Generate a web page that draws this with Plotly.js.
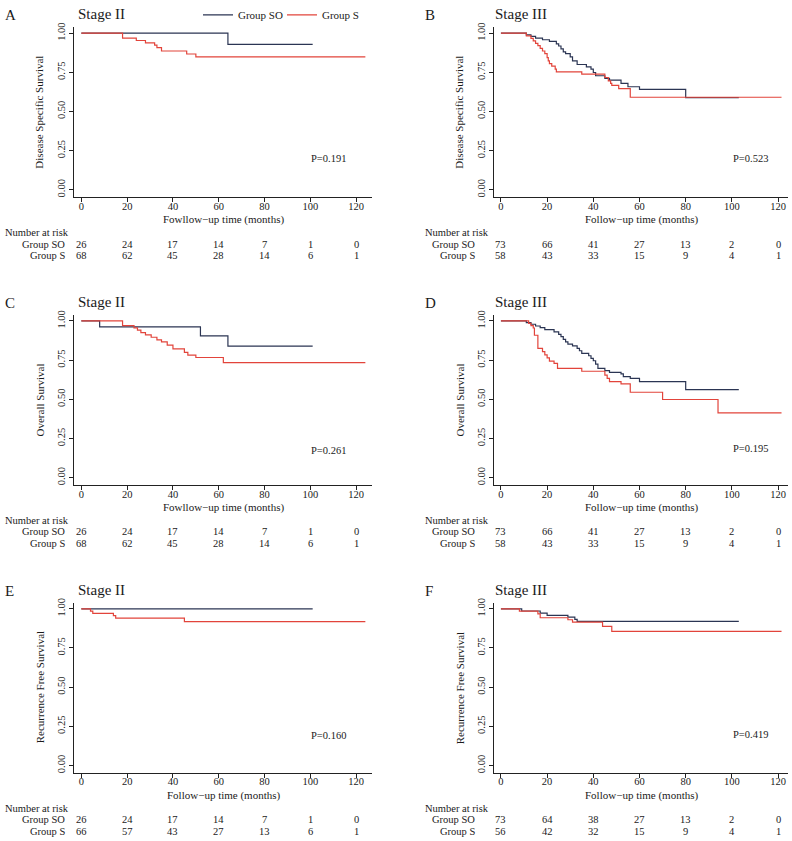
<!DOCTYPE html>
<html><head><meta charset="utf-8">
<script src="https://cdn.plot.ly/plotly-3.0.1.min.js"></script>
<style>html,body{margin:0;padding:0;background:#fff}</style>
</head><body><div id="chart" style="width:792px;height:841px"></div>
<script>
// ---------------- data ----------------
const xTickVals = [0, 20, 40, 60, 80, 100, 120];
const riskTimes = [0, 20, 40, 60, 80, 100, 120];
const yTickVals = [0, 0.25, 0.5, 0.75, 1];
const yTickText = ['0.00', '0.25', '0.50', '0.75', '1.00'];
const groupNames = ['Group SO', 'Group S'];

const panelLetters = ['A', 'B', 'C', 'D', 'E', 'F'];
const stageTitles = ['Stage II', 'Stage III', 'Stage II', 'Stage III', 'Stage II', 'Stage III'];
const yTitles = ['Disease Specific Survival', 'Disease Specific Survival', 'Overall Survival', 'Overall Survival', 'Recurrence Free Survival', 'Recurrence Free Survival'];
const xTitles = ['Fowllow\u2212up time (months)', 'Follow\u2212up time (months)', 'Fowllow\u2212up time (months)', 'Follow\u2212up time (months)', 'Follow\u2212up time (months)', 'Follow\u2212up time (months)'];
const pValues = ['P=0.191', 'P=0.523', 'P=0.261', 'P=0.195', 'P=0.160', 'P=0.419'];
const pValueY = [0.197, 0.2, 0.176, 0.186, 0.19, 0.197];

// A: DSS stage II
const A_SO_t = [0, 64, 101];
const A_SO_s = [1, 0.928, 0.928];
const A_S_t = [0, 18, 24, 28, 32, 33, 35, 46, 50, 124];
const A_S_s = [1, 0.968, 0.953, 0.938, 0.924, 0.908, 0.886, 0.867, 0.848, 0.848];
// B: DSS stage III
const B_SO_t = [0, 11, 13, 15, 18, 21, 24, 25, 26, 27, 28, 30, 31, 33, 37, 39, 40, 41, 45, 47, 52, 55, 60, 80, 103];
const B_SO_s = [1, 0.989, 0.979, 0.968, 0.958, 0.947, 0.932, 0.918, 0.900, 0.880, 0.869, 0.848, 0.823, 0.800, 0.785, 0.770, 0.749, 0.728, 0.711, 0.700, 0.679, 0.658, 0.641, 0.589, 0.589];
const B_S_t = [0, 11, 13, 14, 15, 16, 17, 18, 19, 20, 20.5, 21, 22, 23.5, 24, 35, 45, 46.5, 47.5, 48, 51, 56, 121.5];
const B_S_s = [1, 0.983, 0.966, 0.951, 0.935, 0.920, 0.903, 0.886, 0.869, 0.844, 0.823, 0.806, 0.789, 0.770, 0.753, 0.738, 0.717, 0.696, 0.679, 0.667, 0.646, 0.591, 0.591];
// C: OS stage II
const C_SO_t = [0, 8, 52, 64, 101];
const C_SO_s = [1, 0.962, 0.905, 0.839, 0.839];
const C_S_t = [0, 18, 23, 24.5, 26, 28, 30.5, 33, 35, 37.5, 40, 45, 46.5, 50, 62, 124];
const C_S_s = [1, 0.970, 0.956, 0.941, 0.926, 0.911, 0.896, 0.879, 0.867, 0.846, 0.822, 0.799, 0.782, 0.767, 0.734, 0.734];
// D: OS stage III
const D_SO_t = [0, 11, 13, 15, 17, 19, 23, 25, 26, 27, 28, 29, 31, 33, 34, 35, 38, 39, 40, 41, 42, 45, 47, 52, 53, 56, 60, 80, 103];
const D_SO_s = [1, 0.990, 0.979, 0.968, 0.958, 0.945, 0.930, 0.915, 0.900, 0.882, 0.867, 0.852, 0.841, 0.825, 0.810, 0.793, 0.778, 0.761, 0.746, 0.725, 0.698, 0.683, 0.672, 0.662, 0.645, 0.634, 0.613, 0.562, 0.562];
const D_S_t = [0, 12, 13, 14, 14.5, 16, 18, 19, 20, 21, 23, 24.5, 35, 45, 46, 47, 52, 56, 70, 94, 121.5];
const D_S_s = [1, 0.985, 0.970, 0.955, 0.909, 0.825, 0.805, 0.784, 0.765, 0.744, 0.729, 0.698, 0.679, 0.655, 0.634, 0.613, 0.598, 0.545, 0.499, 0.414, 0.414];
// E: RFS stage II
const E_SO_t = [0, 101];
const E_SO_s = [1, 1];
const E_S_t = [0, 4, 5, 14, 15, 45, 124];
const E_S_s = [1, 0.985, 0.971, 0.956, 0.941, 0.918, 0.918];
// F: RFS stage III
const F_SO_t = [0, 9, 17, 20, 29, 32, 33, 103];
const F_SO_s = [1, 0.986, 0.972, 0.958, 0.947, 0.932, 0.920, 0.920];
const F_S_t = [0, 8, 16, 17, 29, 31, 44, 48, 121.5];
const F_S_s = [1, 0.985, 0.968, 0.943, 0.930, 0.915, 0.888, 0.856, 0.856];

// numbers at risk
const A_riskSO = [26, 24, 17, 14, 7, 1, 0];
const A_riskS  = [68, 62, 45, 28, 14, 6, 1];
const B_riskSO = [73, 66, 41, 27, 13, 2, 0];
const B_riskS  = [58, 43, 33, 15, 9, 4, 1];
const C_riskSO = [26, 24, 17, 14, 7, 1, 0];
const C_riskS  = [68, 62, 45, 28, 14, 6, 1];
const D_riskSO = [73, 66, 41, 27, 13, 2, 0];
const D_riskS  = [58, 43, 33, 15, 9, 4, 1];
const E_riskSO = [26, 24, 17, 14, 7, 1, 0];
const E_riskS  = [66, 57, 43, 27, 13, 6, 1];
const F_riskSO = [73, 64, 38, 27, 13, 2, 0];
const F_riskS  = [56, 42, 32, 15, 9, 4, 1];

// ---------------- build ----------------
const seriesSO = [[A_SO_t, A_SO_s], [B_SO_t, B_SO_s], [C_SO_t, C_SO_s], [D_SO_t, D_SO_s], [E_SO_t, E_SO_s], [F_SO_t, F_SO_s]];
const seriesS  = [[A_S_t, A_S_s], [B_S_t, B_S_s], [C_S_t, C_S_s], [D_S_t, D_S_s], [E_S_t, E_S_s], [F_S_t, F_S_s]];
const risksSO = [A_riskSO, B_riskSO, C_riskSO, D_riskSO, E_riskSO, F_riskSO];
const risksS  = [A_riskS, B_riskS, C_riskS, D_riskS, E_riskS, F_riskS];

const W = 792, H = 841;
const FONT = '"Liberation Serif", "Times New Roman", Times, serif';
const TXT = '#1a1a1a';
const COL_SO = '#2b3553';
const COL_S = '#e2443b';
const px = v => v / W;
const py = v => 1 - v / H;

const cols = [
  {dom: [74, 372], range: [-3.2, 126.9], labelRight: 67, narLeft: 3, letterX: 3, titleX: 76, ytitleX: 39.5},
  {dom: [494, 788], range: [-3.0, 124.3], labelRight: 477, narLeft: 423, letterX: 423, titleX: 492.5, ytitleX: 459.5}
];
const ROW = 289.2;

const data = [];
const layout = {
  width: W, height: H,
  margin: {l: 0, r: 0, t: 0, b: 0},
  paper_bgcolor: '#ffffff', plot_bgcolor: '#ffffff',
  font: {family: FONT, color: TXT, size: 11},
  showlegend: true,
  annotations: [],
  legend: {
    orientation: 'h', x: px(198), y: py(11), xanchor: 'left', yanchor: 'middle',
    font: {family: FONT, size: 11, color: TXT}, bgcolor: 'rgba(0,0,0,0)', borderwidth: 0, itemwidth: 30
  },
  legend2: {
    orientation: 'h', x: px(282), y: py(11), xanchor: 'left', yanchor: 'middle',
    font: {family: FONT, size: 11, color: TXT}, bgcolor: 'rgba(0,0,0,0)', borderwidth: 0, itemwidth: 30
  }
};

function ann(o) { layout.annotations.push(Object.assign({showarrow: false, font: {family: FONT, size: 10.5, color: TXT}}, o)); }

for (let i = 0; i < 6; i++) {
  const c = cols[i % 2];
  const r = Math.floor(i / 2);
  const off = r * ROW;
  const xa = i === 0 ? 'x' : 'x' + (i + 1);
  const ya = i === 0 ? 'y' : 'y' + (i + 1);
  const xkey = i === 0 ? 'xaxis' : 'xaxis' + (i + 1);
  const ykey = i === 0 ? 'yaxis' : 'yaxis' + (i + 1);
  const yTop = 23.3 + off, yBot = 194 + off;

  layout[xkey] = {
    domain: [px(c.dom[0]), px(c.dom[1])], range: c.range, anchor: ya,
    showgrid: false, zeroline: false, showline: true, linecolor: '#222', linewidth: 1,
    ticks: 'outside', ticklen: 4, tickwidth: 1, tickcolor: '#222',
    tickmode: 'array', tickvals: xTickVals, ticktext: xTickVals.map(String),
    ticklabelstandoff: -5,
    tickfont: {family: FONT, size: 10.5, color: TXT}, fixedrange: true
  };
  layout[ykey] = {
    domain: [py(yBot), py(yTop)], range: [-0.046, 1.038], anchor: xa,
    showgrid: false, zeroline: false, showline: true, linecolor: '#222', linewidth: 1,
    ticks: 'outside', ticklen: 4, tickwidth: 1, tickcolor: '#222',
    tickmode: 'array', tickvals: yTickVals, ticktext: yTickText, tickangle: -90,
    tickfont: {family: FONT, size: 10.5, color: TXT}, fixedrange: true
  };

  data.push({
    type: 'scatter', mode: 'lines', x: seriesSO[i][0], y: seriesSO[i][1], xaxis: xa, yaxis: ya,
    line: {shape: 'hv', color: COL_SO, width: 1.2}, name: groupNames[0],
    showlegend: i === 0, legend: 'legend', hoverinfo: 'skip'
  });
  data.push({
    type: 'scatter', mode: 'lines', x: seriesS[i][0], y: seriesS[i][1], xaxis: xa, yaxis: ya,
    line: {shape: 'hv', color: COL_S, width: 1.2}, name: groupNames[1],
    showlegend: i === 0, legend: 'legend2', hoverinfo: 'skip'
  });

  // panel letter and title
  ann({text: panelLetters[i], xref: 'paper', yref: 'paper', x: px(c.letterX), y: py(11 + off), xanchor: 'left', yanchor: 'middle', font: {family: FONT, size: 15, color: TXT}});
  ann({text: stageTitles[i], xref: 'paper', yref: 'paper', x: px(c.titleX), y: py(10.5 + off), xanchor: 'left', yanchor: 'middle', font: {family: FONT, size: 15, color: TXT}});
  // axis titles
  ann({text: yTitles[i], xref: 'paper', yref: 'paper', x: px(c.ytitleX), y: py((yTop + yBot) / 2), xanchor: 'center', yanchor: 'middle', textangle: -90, font: {family: FONT, size: 11, color: TXT}});
  ann({text: xTitles[i], xref: 'paper', yref: 'paper', x: px((c.dom[0] + c.dom[1]) / 2), y: py(216.7 + off), xanchor: 'center', yanchor: 'middle', font: {family: FONT, size: 11, color: TXT}});
  // p value
  ann({text: pValues[i], xref: xa, yref: ya, x: 99.5, y: pValueY[i], xanchor: 'left', yanchor: 'middle'});
  // number at risk table
  ann({text: 'Number at risk', xref: 'paper', yref: 'paper', x: px(c.narLeft), y: py(230 + off), xanchor: 'left', yanchor: 'middle'});
  ann({text: groupNames[0], xref: 'paper', yref: 'paper', x: px(c.labelRight), y: py(241.2 + off), xanchor: 'right', yanchor: 'middle'});
  ann({text: groupNames[1], xref: 'paper', yref: 'paper', x: px(c.labelRight), y: py(252.6 + off), xanchor: 'right', yanchor: 'middle'});
  for (let k = 0; k < riskTimes.length; k++) {
    ann({text: String(risksSO[i][k]), xref: xa, yref: 'paper', x: riskTimes[k], y: py(241.2 + off), xanchor: 'center', yanchor: 'middle'});
    ann({text: String(risksS[i][k]), xref: xa, yref: 'paper', x: riskTimes[k], y: py(252.6 + off), xanchor: 'center', yanchor: 'middle'});
  }
}

Plotly.newPlot('chart', data, layout, {staticPlot: true, displayModeBar: false});
</script></body></html>
